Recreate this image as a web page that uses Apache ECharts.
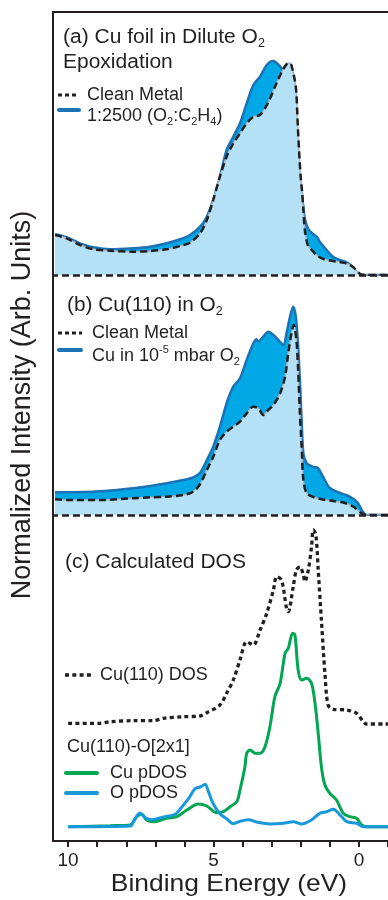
<!DOCTYPE html>
<html><head><meta charset="utf-8">
<script src="https://cdn.jsdelivr.net/npm/echarts@6/dist/echarts.min.js"></script>
<style>html,body{margin:0;padding:0;background:#fff}#c{width:388px;height:900px}</style>
</head><body><div id="c"></div>
<script>
// Binding energy axis (eV)
const xTicks = [10, 9, 8, 7, 6, 5, 4, 3, 2, 1, 0, -1];
const xTickLabels = [10, 5, 0];

// (a) Cu foil in dilute O2 epoxidation  [binding energy, intensity (arb.)]
const aClean = [[10.45,40],[10.05,36.7],[9.59,30],[9.13,25.7],[8.56,24.3],[7.76,23.3],[7.18,24],[6.61,25.7],[6.15,29],[5.81,32.3],[5.46,41.7],[5.23,55],[5.01,75],[4.78,98.3],[4.55,118.3],[4.32,131.7],[4.09,141.7],[3.86,151.7],[3.63,158.3],[3.40,160],[3.13,172],[2.83,192],[2.62,205],[2.48,211],[2.37,212],[2.28,205],[2.20,194],[2.15,182],[2.10,148],[2.04,115],[2.00,97],[1.96,85],[1.91,65],[1.86,45],[1.75,29],[1.62,25],[1.45,19.7],[1.25,16.3],[1.00,14.5],[0.75,13.4],[0.50,12.1],[0.35,10.5],[0.20,8],[0.08,4.5],[-0.05,0.8],[-0.2,0],[-1.0,0]];
const aO2C2H4 = [[10.45,40.7],[10.05,37.7],[9.59,31.7],[9.13,27.7],[8.56,25.7],[7.76,26.7],[7.18,28.3],[6.61,31.7],[6.15,35.7],[5.81,40],[5.46,48.3],[5.23,58.3],[5.01,75],[4.78,98.3],[4.55,125],[4.32,138.3],[4.09,151.7],[3.86,171.7],[3.63,190],[3.40,198.3],[3.17,210],[2.95,214],[2.83,212],[2.66,206.7],[2.49,195],[2.30,184],[2.15,145],[2.05,105],[1.95,79],[1.86,56.5],[1.74,46],[1.57,40.8],[1.45,38.4],[1.34,33],[1.11,25],[0.88,17.9],[0.65,15],[0.42,12.6],[0.31,10.5],[0.20,7.1],[0.08,3.4],[-0.03,0.8],[-0.15,0],[-1.0,0]];

// (b) Cu(110) in O2
const bClean = [[10.45,15.7],[10.05,15],[8.91,15],[7.76,16.7],[7.18,17.7],[6.61,18.3],[6.04,20],[5.70,23.3],[5.46,31],[5.23,45],[5.01,58.3],[4.78,75],[4.55,83.3],[4.32,88.3],[4.09,93.3],[3.86,101.7],[3.63,108.3],[3.46,106.7],[3.29,100],[3.12,105],[2.94,110],[2.71,121.7],[2.54,138.3],[2.43,161.7],[2.32,181.7],[2.24,190],[2.15,175],[2.09,145],[2.03,101.7],[1.97,68.3],[1.91,35],[1.80,22],[1.57,18],[1.23,15.5],[0.88,14],[0.54,12.5],[0.20,8.5],[-0.09,1.7],[-0.26,0],[-1.0,0]];
const bO2 = [[10.45,22.7],[10.05,22.7],[9.48,23],[8.91,23.7],[8.33,25],[7.76,26.7],[7.18,29],[6.61,31.7],[6.04,35],[5.70,37.7],[5.46,42.3],[5.23,55],[5.01,68.3],[4.78,88.3],[4.55,111.7],[4.32,128.3],[4.09,136.7],[3.86,155],[3.63,171.7],[3.52,175.7],[3.46,173.3],[3.29,178.3],[3.12,183.3],[2.94,180],[2.77,175],[2.60,170],[2.49,181.7],[2.37,198.3],[2.26,208.3],[2.17,198.3],[2.09,168.3],[2.03,135],[1.97,95],[1.91,61.7],[1.80,52],[1.57,48],[1.41,47],[1.23,38],[1.00,27],[0.65,22],[0.40,19.5],[0.14,15],[0.03,11.7],[-0.14,3],[-0.26,0],[-1.0,0]];

// (c) Calculated DOS
const cCuDOS = [[10.0,117.7],[8.90,117.7],[8.56,119.3],[7.76,120.3],[7.07,120.3],[6.72,122.7],[6.04,124.3],[5.46,125],[5.23,128.3],[4.78,136],[4.55,147.7],[4.32,161],[4.09,181],[3.86,199.3],[3.63,196],[3.40,211],[3.17,227.7],[2.94,251],[2.83,264.3],[2.66,261],[2.49,232.7],[2.43,229.3],[2.26,254.3],[2.15,271],[2.03,274.3],[1.91,266],[1.86,259.3],[1.74,271],[1.63,294.3],[1.57,311],[1.48,306],[1.40,271],[1.29,221],[1.17,167.7],[1.06,136],[0.88,131.7],[0.42,131],[0.08,127.7],[-0.15,119.3],[-0.26,117],[-1.0,117]];
const cCuPDOS = [[10.0,14.3],[8.56,15.3],[7.87,16],[7.64,24.3],[7.47,26.7],[7.30,21],[7.07,19.3],[6.61,22.7],[6.26,24.3],[5.92,31],[5.52,37],[5.23,35],[4.89,28.3],[4.66,29.3],[4.43,34.3],[4.20,39.3],[4.09,51],[3.92,74.3],[3.86,87.7],[3.74,91],[3.57,87.7],[3.40,87.7],[3.23,94.3],[3.06,114.3],[2.89,144.3],[2.71,157.7],[2.54,187.7],[2.43,192.7],[2.28,207.7],[2.20,206],[2.09,171],[1.97,161],[1.80,162.7],[1.63,157.7],[1.51,137.7],[1.40,107.7],[1.29,74.3],[1.17,56],[1.00,47.7],[0.77,41],[0.54,27.7],[0.31,24.3],[0.08,22.7],[-0.09,16],[-0.26,14.3],[-1.0,14.3]];
const cOPDOS = [[10.0,14.3],[7.87,15],[7.70,22.3],[7.53,28],[7.35,23.3],[7.12,21.3],[6.72,24],[6.32,26.7],[6.09,34],[5.86,42.3],[5.64,52.3],[5.46,54],[5.29,56.7],[5.17,49],[5.01,37.3],[4.78,27.3],[4.55,22.3],[4.32,17.3],[4.09,19.7],[3.80,21.3],[3.52,19],[3.06,17],[2.60,17.7],[2.26,19.3],[1.97,17],[1.63,21],[1.34,27.7],[1.11,29.3],[0.88,31.7],[0.65,26],[0.42,19.3],[0.08,17.7],[-0.15,14.3],[-1.0,14.3]];

const INK = '#231f20';
const FONT = '"Liberation Sans", Arial, Helvetica, sans-serif';
const LINE_BLUE = '#1b72b4';
const DARK_FILL = '#00a8e6';
const LIGHT_FILL = '#b5e1f7';
const EDGE_GRAY = '#a9b5c9';
const GREEN = '#00a651';
const OBLUE = '#1698db';
const X_MIN = -1.0, X_MAX = 10.52;

const chart = echarts.init(document.getElementById('c'), null, {renderer: 'canvas'});

function xAx(grid, opts) {
  return Object.assign({
    gridIndex: grid, type: 'value', min: X_MIN, max: X_MAX, inverse: true,
    axisLine: {show: false}, axisTick: {show: false}, axisLabel: {show: false}, splitLine: {show: false}
  }, opts || {});
}
function yAx(grid, max) {
  return {
    gridIndex: grid, type: 'value', min: 0, max: max,
    axisLine: {show: true, onZero: false, lineStyle: {color: INK, width: 2}},
    axisTick: {show: false}, axisLabel: {show: false}, splitLine: {show: false}
  };
}
const baseMark = {
  silent: true, symbol: ['none', 'none'], label: {show: false},
  lineStyle: {type: [7, 4], width: 2.5, color: INK}, data: [{yAxis: 0}], animation: false
};
function panelSeries(g, blueData, cleanData) {
  return [
    {type: 'line', xAxisIndex: g, yAxisIndex: g, data: blueData, smooth: 0.3, showSymbol: false, symbol: 'none', z: 2,
      lineStyle: {color: LINE_BLUE, width: 2.5}, areaStyle: {color: DARK_FILL, opacity: 1}},
    {type: 'line', xAxisIndex: g, yAxisIndex: g, data: cleanData, smooth: 0.3, showSymbol: false, symbol: 'none', z: 3,
      lineStyle: {color: EDGE_GRAY, width: 1.5}, areaStyle: {color: LIGHT_FILL, opacity: 1}},
    {type: 'line', xAxisIndex: g, yAxisIndex: g, data: cleanData, smooth: 0.3, showSymbol: false, symbol: 'none', z: 4,
      lineStyle: {color: INK, width: 2.5, type: [7, 4]}, markLine: baseMark}
  ];
}

function txt(x, y, text, size, sx) {
  return {
    type: 'text', x: x, y: y, z: 100, scaleX: sx || 1,
    style: {
      text: text, fill: INK, fontSize: size, fontFamily: FONT,
      align: 'left', verticalAlign: 'middle', lineHeight: Math.round(size * 1.3),
      rich: {
        sub: {fontSize: Math.round(size * 0.6), fontFamily: FONT, fill: INK, lineHeight: Math.round(size * 0.7), verticalAlign: 'bottom'},
        sup: {fontSize: Math.round(size * 0.6), fontFamily: FONT, fill: INK, lineHeight: Math.round(size * 0.7), verticalAlign: 'top'}
      }
    }
  };
}
function icon(x1, x2, y, color, width, dash, cap) {
  return {type: 'line', z: 100, shape: {x1: x1, y1: y, x2: x2, y2: y},
    style: {stroke: color, lineWidth: width, lineDash: dash || null, lineCap: cap || 'butt'}};
}

const option = {
  animation: false,
  backgroundColor: '#fff',
  grid: [
    {left: 53, right: 0, top: 12, height: 263},
    {left: 53, right: 0, top: 275, height: 240},
    {left: 53, right: 0, top: 515, height: 326}
  ],
  xAxis: [
    xAx(0, {position: 'top', axisLine: {show: true, onZero: false, lineStyle: {color: INK, width: 2}}}),
    xAx(1),
    xAx(2, {
      position: 'bottom',
      axisLine: {show: true, onZero: false, lineStyle: {color: INK, width: 2}},
      axisTick: {show: true, inside: false, length: 6, lineStyle: {color: INK, width: 2}, customValues: xTicks},
      axisLabel: {show: true, color: INK, fontSize: 19, fontFamily: FONT, margin: 10, customValues: xTickLabels}
    })
  ],
  yAxis: [yAx(0, 263), yAx(1, 240), yAx(2, 326)],
  series: [].concat(
    panelSeries(0, aO2C2H4, aClean),
    panelSeries(1, bO2, bClean),
    [
      {type: 'line', xAxisIndex: 2, yAxisIndex: 2, data: cCuDOS, smooth: 0.3, symbol: 'none', z: 3,
        lineStyle: {color: INK, width: 3.3, type: [4, 3.3]}},
      {type: 'line', xAxisIndex: 2, yAxisIndex: 2, data: cCuPDOS, smooth: 0.3, symbol: 'none', z: 3,
        lineStyle: {color: GREEN, width: 3}},
      {type: 'line', xAxisIndex: 2, yAxisIndex: 2, data: cOPDOS, smooth: 0.3, symbol: 'none', z: 4,
        lineStyle: {color: OBLUE, width: 3}}
    ]
  ),
  graphic: [
    // panel (a)
    txt(63, 37, '(a) Cu foil in Dilute O{sub|2}', 20, 1.05),
    txt(63, 62, 'Epoxidation', 20, 1.05),
    icon(58, 78, 95, INK, 3, [4, 3]),
    txt(87, 95, 'Clean Metal', 18),
    icon(59, 79, 110, LINE_BLUE, 4, null, 'round'),
    txt(87, 116, '1:2500 (O{sub|2}:C{sub|2}H{sub|4})', 18),
    // panel (b)
    txt(67, 305, '(b) Cu(110) in O{sub|2}', 20, 1.04),
    icon(58, 82, 333, INK, 3, [4, 3]),
    txt(92, 333, 'Clean Metal', 18),
    icon(59, 81, 350, LINE_BLUE, 4, null, 'round'),
    txt(92, 356, 'Cu in 10{sup|-5} mbar O{sub|2}', 18),
    // panel (c)
    txt(65, 562, '(c) Calculated DOS', 20, 1.05),
    icon(65, 93, 675, INK, 3.3, [4, 3.3]),
    txt(100, 675, 'Cu(110) DOS', 18),
    txt(67, 747, 'Cu(110)-O[2x1]', 18),
    icon(66, 97, 773, GREEN, 4, null, 'round'),
    txt(110, 773, 'Cu pDOS', 18),
    icon(66, 97, 793, OBLUE, 4, null, 'round'),
    txt(110, 793, 'O pDOS', 18),
    // axis titles
    {type: 'text', x: 23, y: 405, rotation: Math.PI / 2, z: 100,
      style: {text: 'Normalized Intensity (Arb. Units)', fill: INK, fontSize: 27, fontFamily: FONT, align: 'center', verticalAlign: 'middle'}},
    {type: 'text', x: 229, y: 884, z: 100, scaleX: 1.1,
      style: {text: 'Binding Energy (eV)', fill: INK, fontSize: 24, fontFamily: FONT, align: 'center', verticalAlign: 'middle'}}
  ]
};
chart.setOption(option);
</script></body></html>
